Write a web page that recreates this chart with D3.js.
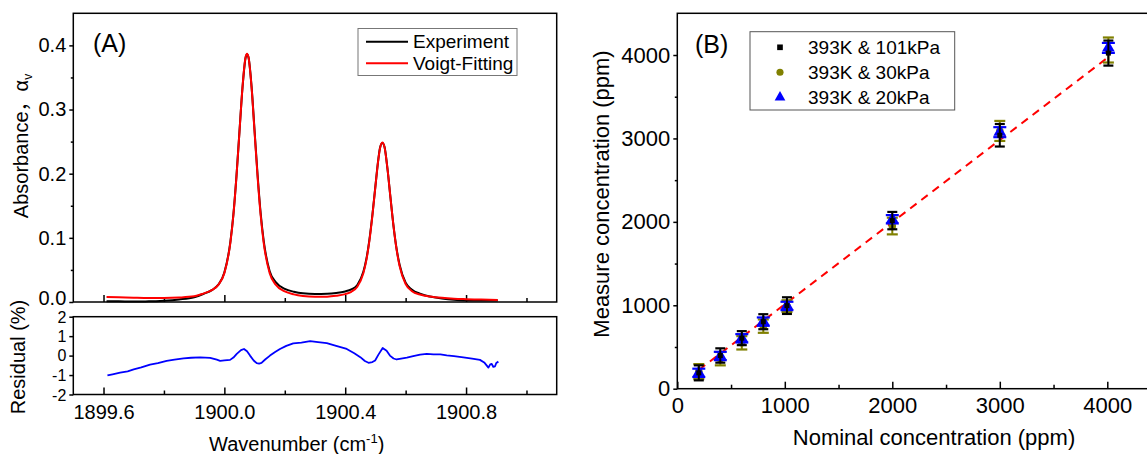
<!DOCTYPE html>
<html>
<head>
<meta charset="utf-8">
<script src="https://cdn.jsdelivr.net/npm/d3@7"></script>
<style>
  html, body { margin: 0; padding: 0; background: #fff; }
  svg { display: block; }
</style>
</head>
<body>
<svg id="chart" width="1147" height="454"></svg>
<script>
// ---------- Panel A: absorbance spectrum ----------
const wavenumber = [1899.61, 1899.65, 1899.70, 1899.75, 1899.80, 1899.85, 1899.90, 1899.93, 1899.96, 1899.98,
  1900.00, 1900.02, 1900.03, 1900.04, 1900.05, 1900.06, 1900.07, 1900.075, 1900.08, 1900.09,
  1900.10, 1900.11, 1900.12, 1900.13, 1900.15, 1900.17, 1900.20, 1900.23, 1900.26, 1900.30,
  1900.34, 1900.37, 1900.40, 1900.42, 1900.44, 1900.46, 1900.47, 1900.48, 1900.49, 1900.50,
  1900.51, 1900.515, 1900.523, 1900.53, 1900.54, 1900.55, 1900.56, 1900.57, 1900.58, 1900.60,
  1900.62, 1900.65, 1900.68, 1900.72, 1900.76, 1900.80, 1900.85, 1900.905];

const absExperiment = [0.0012, 0.0010, 0.0008, 0.0010, 0.0020, 0.0040, 0.0075, 0.0125, 0.0190, 0.0270,
  0.0460, 0.0940, 0.1370, 0.1960, 0.2660, 0.3340, 0.3800, 0.3860, 0.3810, 0.3360,
  0.2670, 0.1980, 0.1390, 0.0960, 0.0480, 0.0310, 0.0205, 0.0160, 0.0135, 0.0125,
  0.0128, 0.0140, 0.0165, 0.0195, 0.0265, 0.0470, 0.0670, 0.0970, 0.1360, 0.1810,
  0.2240, 0.2400, 0.2480, 0.2420, 0.2070, 0.1620, 0.1180, 0.0830, 0.0580, 0.0300,
  0.0195, 0.0125, 0.0085, 0.0055, 0.0035, 0.0025, 0.0022, 0.0025];

const absVoigtFit = [0.0078, 0.0074, 0.0068, 0.0064, 0.0064, 0.0070, 0.0088, 0.0131, 0.0190, 0.0267,
  0.0450, 0.0930, 0.1360, 0.1950, 0.2650, 0.3346, 0.3810, 0.3870, 0.3810, 0.3350,
  0.2650, 0.1950, 0.1360, 0.0930, 0.0450, 0.0270, 0.0164, 0.0119, 0.0094, 0.0082,
  0.0083, 0.0096, 0.0123, 0.0159, 0.0238, 0.0447, 0.0652, 0.0951, 0.1346, 0.1803,
  0.2233, 0.2390, 0.2485, 0.2414, 0.2073, 0.1617, 0.1177, 0.0819, 0.0560, 0.0280,
  0.0173, 0.0114, 0.0087, 0.0065, 0.0051, 0.0044, 0.0038, 0.0033];

const residualWavenumber = [1899.613, 1899.63, 1899.655, 1899.68, 1899.70, 1899.725, 1899.754, 1899.78, 1899.809, 1899.835,
  1899.865, 1899.89, 1899.92, 1899.953, 1899.975, 1899.986, 1900.00, 1900.019, 1900.03, 1900.041,
  1900.055, 1900.065, 1900.075, 1900.085, 1900.097, 1900.107, 1900.115, 1900.123, 1900.135, 1900.151,
  1900.168, 1900.184, 1900.205, 1900.228, 1900.255, 1900.284, 1900.31, 1900.339, 1900.37, 1900.405,
  1900.43, 1900.45, 1900.465, 1900.477, 1900.49, 1900.499, 1900.51, 1900.524, 1900.537, 1900.548,
  1900.56, 1900.57, 1900.585, 1900.604, 1900.625, 1900.648, 1900.67, 1900.692, 1900.715, 1900.736,
  1900.76, 1900.791, 1900.82, 1900.846, 1900.86, 1900.868, 1900.874, 1900.88, 1900.885, 1900.89,
  1900.896, 1900.90, 1900.907];

const residualPercent = [-1.02, -0.96, -0.88, -0.81, -0.71, -0.61, -0.46, -0.39, -0.27, -0.21,
  -0.14, -0.11, -0.09, -0.12, -0.21, -0.27, -0.25, -0.22, -0.10, 0.09,
  0.28, 0.34, 0.22, 0.00, -0.25, -0.39, -0.41, -0.37, -0.20, 0.00,
  0.18, 0.34, 0.50, 0.63, 0.67, 0.74, 0.69, 0.64, 0.50, 0.34,
  0.12, -0.08, -0.28, -0.37, -0.33, -0.25, 0.05, 0.39, 0.25, 0.00,
  -0.15, -0.20, -0.15, -0.10, -0.03, 0.05, 0.09, 0.06, 0.06, 0.01,
  -0.03, -0.09, -0.15, -0.22, -0.35, -0.50, -0.62, -0.45, -0.43, -0.58,
  -0.55, -0.38, -0.31];

const wavenumberMajorTicks = [1899.6, 1900.0, 1900.4, 1900.8];
const wavenumberMinorTicks = [1899.8, 1900.2, 1900.6, 1901.0];
const absorbanceTicks = [0.0, 0.1, 0.2, 0.3, 0.4];
const absorbanceMinorTicks = [0.05, 0.15, 0.25, 0.35];
const residualTicks = [-2, -1, 0, 1, 2];
const legendA = ["Experiment", "Voigt-Fitting"];

// ---------- Panel B: concentration calibration ----------
const nominalPpm = [200, 400, 600, 800, 1020, 2000, 3000, 4010];
const meas101kPa = [190, 398, 606, 803, 996, 2015, 3038, 4023];
const err101kPa = [90, 86, 84, 90, 100, 104, 135, 150];
const meas30kPa = [205, 360, 550, 750, 990, 1950, 3090, 4060];
const err30kPa = [90, 80, 80, 80, 70, 100, 120, 150];
const meas20kPa = [190, 392, 604, 804, 992, 2031, 3075, 4085];
const err20kPa = [50, 50, 50, 50, 50, 50, 60, 60];
const fitLineNominal = [200, 4010];
const fitLineMeasured = [225, 3975];
const ppmMajorTicks = [0, 1000, 2000, 3000, 4000];
const ppmMinorTicks = [500, 1500, 2500, 3500];
const legendB = ["393K & 101kPa", "393K & 30kPa", "393K & 20kPa"];

const FONT = '"Liberation Sans", Arial, Helvetica, sans-serif';
const svg = d3.select("#chart");

function styleAxis(g, fontSize) {
  g.select(".domain").remove();
  g.selectAll(".tick line").attr("stroke", "#000").attr("stroke-width", 1.5);
  g.selectAll(".tick text").attr("font-size", fontSize).attr("font-family", FONT).attr("fill", "#000");
  return g;
}

// ---------- Panel A scales ----------
const xA = d3.scaleLinear().domain([1899.5, 1901.1]).range([73.3, 556.7]);
const yAbs = d3.scaleLinear().domain([0, 0.45]).range([302, 13.3]);
const yRes = d3.scaleLinear().domain([-2, 2]).range([394.5, 316.7]);

// spectrum axes
svg.append("g").attr("transform", `translate(0,${yAbs(0)})`)
  .call(d3.axisBottom(xA).tickValues(wavenumberMajorTicks).tickSize(-7).tickFormat(""))
  .call(styleAxis, 20);
svg.append("g").attr("transform", `translate(0,${yAbs(0)})`)
  .call(d3.axisBottom(xA).tickValues(wavenumberMinorTicks).tickSize(-4).tickFormat(""))
  .call(styleAxis, 20);
const absAxis = svg.append("g").attr("transform", `translate(${xA.range()[0]},0)`)
  .call(d3.axisLeft(yAbs).tickValues(absorbanceTicks).tickSize(4).tickPadding(3).tickFormat(d3.format(".1f")))
  .call(styleAxis, 20);
// lift the lowest label slightly so it clears the residual panel's labels
absAxis.selectAll(".tick text").attr("dy", d => d === 0 ? "0.1em" : "0.32em");
svg.append("g").attr("transform", `translate(${xA.range()[0]},0)`)
  .call(d3.axisLeft(yAbs).tickValues(absorbanceMinorTicks).tickSize(2.5).tickFormat(""))
  .call(styleAxis, 20);

// residual axes
svg.append("g").attr("transform", `translate(0,${yRes(-2)})`)
  .call(d3.axisBottom(xA).tickValues(wavenumberMajorTicks).tickSize(-7).tickPadding(10).tickFormat(d3.format(".1f")))
  .call(styleAxis, 20);
svg.append("g").attr("transform", `translate(0,${yRes(-2)})`)
  .call(d3.axisBottom(xA).tickValues(wavenumberMinorTicks).tickSize(-4).tickFormat(""))
  .call(styleAxis, 20);
const resAxis = svg.append("g").attr("transform", `translate(${xA.range()[0]},0)`)
  .call(d3.axisLeft(yRes).tickValues(residualTicks).tickSize(4).tickPadding(3).tickFormat(d => String(d)))
  .call(styleAxis, 16);
resAxis.selectAll(".tick text")
  .attr("dy", d => d === 2 ? "0.38em" : (d === -2 ? "0.4em" : "0.32em"));

// frames
svg.append("rect")
  .attr("x", xA.range()[0]).attr("y", yAbs.range()[1])
  .attr("width", xA.range()[1] - xA.range()[0]).attr("height", yAbs.range()[0] - yAbs.range()[1])
  .attr("fill", "none").attr("stroke", "#000").attr("stroke-width", 1.5);
svg.append("rect")
  .attr("x", xA.range()[0]).attr("y", yRes.range()[1])
  .attr("width", xA.range()[1] - xA.range()[0]).attr("height", yRes.range()[0] - yRes.range()[1])
  .attr("fill", "none").attr("stroke", "#000").attr("stroke-width", 1.5);

// spectrum curves
const specLine = d3.line().x(d => xA(d[0])).y(d => yAbs(d[1])).curve(d3.curveMonotoneX);
svg.append("path")
  .attr("d", specLine(d3.zip(wavenumber, absExperiment)))
  .attr("fill", "none").attr("stroke", "#000").attr("stroke-width", 2);
svg.append("path")
  .attr("d", specLine(d3.zip(wavenumber, absVoigtFit)))
  .attr("fill", "none").attr("stroke", "#ff0000").attr("stroke-width", 2);

// residual curve
const resLine = d3.line().x(d => xA(d[0])).y(d => yRes(d[1]));
svg.append("path")
  .attr("d", resLine(d3.zip(residualWavenumber, residualPercent)))
  .attr("fill", "none").attr("stroke", "#0000ff").attr("stroke-width", 1.8)
  .attr("stroke-linejoin", "round");

// panel A labels
svg.append("text").attr("x", 93).attr("y", 52)
  .attr("font-family", FONT).attr("font-size", 25).text("(A)");

const absTitle = svg.append("text")
  .attr("transform", "translate(28,146) rotate(-90)")
  .attr("text-anchor", "middle")
  .attr("font-family", FONT).attr("font-size", 20);
absTitle.append("tspan").text("Absorbance");
absTitle.append("tspan").attr("font-family", '"Noto Sans CJK SC", sans-serif').text("，");
absTitle.append("tspan").text("α");
absTitle.append("tspan").attr("dy", 4).attr("font-size", 12).text("v");

svg.append("text")
  .attr("transform", "translate(25,357) rotate(-90)")
  .attr("text-anchor", "middle")
  .attr("font-family", FONT).attr("font-size", 20)
  .text("Residual (%)");

const waveTitle = svg.append("text")
  .attr("x", 209).attr("y", 451)
  .attr("font-family", FONT).attr("font-size", 20);
waveTitle.append("tspan").text("Wavenumber (cm");
waveTitle.append("tspan").attr("dy", -8).attr("font-size", 13).text("-1");
waveTitle.append("tspan").attr("dy", 8).text(")");

// legend A
const legA = svg.append("g");
legA.append("rect").attr("x", 358).attr("y", 28.5).attr("width", 159).attr("height", 47)
  .attr("fill", "#fff").attr("stroke", "#777").attr("stroke-width", 1);
const legAColors = ["#000", "#ff0000"];
legendA.forEach((name, i) => {
  const y = 41.7 + i * 21.6;
  legA.append("line").attr("x1", 366).attr("x2", 408).attr("y1", y).attr("y2", y)
    .attr("stroke", legAColors[i]).attr("stroke-width", 2);
  legA.append("text").attr("x", 413).attr("y", y).attr("dy", "0.35em")
    .attr("font-family", FONT).attr("font-size", 19).text(name);
});

// ---------- Panel B ----------
const xB = d3.scaleLinear().domain([0, 4400]).range([677.3, 1150.3]);
const yB = d3.scaleLinear().domain([0, 4500]).range([388.7, 13.3]);

svg.append("g").attr("transform", `translate(0,${yB(0)})`)
  .call(d3.axisBottom(xB).tickValues(ppmMajorTicks).tickSize(-7).tickPadding(9).tickFormat(d3.format("d")))
  .call(styleAxis, 22);
svg.append("g").attr("transform", `translate(0,${yB(0)})`)
  .call(d3.axisBottom(xB).tickValues(ppmMinorTicks).tickSize(-4).tickFormat(""))
  .call(styleAxis, 22);
svg.append("g").attr("transform", `translate(${xB(0)},0)`)
  .call(d3.axisLeft(yB).tickValues(ppmMajorTicks).tickSize(4).tickPadding(3).tickFormat(d3.format("d")))
  .call(styleAxis, 22);
svg.append("g").attr("transform", `translate(${xB(0)},0)`)
  .call(d3.axisLeft(yB).tickValues(ppmMinorTicks).tickSize(2.5).tickFormat(""))
  .call(styleAxis, 22);

svg.append("rect")
  .attr("x", xB.range()[0]).attr("y", yB.range()[1])
  .attr("width", xB.range()[1] - xB.range()[0]).attr("height", yB.range()[0] - yB.range()[1])
  .attr("fill", "none").attr("stroke", "#000").attr("stroke-width", 1.5);

// linear fit
svg.append("path")
  .attr("d", d3.line().x(d => xB(d[0])).y(d => yB(d[1]))(d3.zip(fitLineNominal, fitLineMeasured)))
  .attr("fill", "none").attr("stroke", "#ff0000").attr("stroke-width", 2)
  .attr("stroke-dasharray", "8,6");

function drawSeries(values, errors, color, symbolType, symbolSize, capHalf) {
  const g = svg.append("g");
  const pts = d3.zip(nominalPpm, values, errors);
  pts.forEach(([x, v, e]) => {
    const cx = xB(x);
    g.append("line").attr("x1", cx).attr("x2", cx).attr("y1", yB(v - e)).attr("y2", yB(v + e))
      .attr("stroke", color).attr("stroke-width", 2);
    [v - e, v + e].forEach(c => {
      g.append("line").attr("x1", cx - capHalf).attr("x2", cx + capHalf).attr("y1", yB(c)).attr("y2", yB(c))
        .attr("stroke", color).attr("stroke-width", 2.2);
    });
  });
  g.selectAll("path.mark").data(pts).join("path").attr("class", "mark")
    .attr("transform", d => `translate(${xB(d[0])},${yB(d[1])})`)
    .attr("d", d3.symbol(symbolType, symbolSize)())
    .attr("fill", color);
}

drawSeries(meas30kPa, err30kPa, "#808000", d3.symbolCircle, 45, 5.5);
drawSeries(meas20kPa, err20kPa, "#0000ff", d3.symbolTriangle, 70, 6.5);
drawSeries(meas101kPa, err101kPa, "#000000", d3.symbolSquare, 25, 5);

// panel B labels
svg.append("text").attr("x", 695).attr("y", 53)
  .attr("font-family", FONT).attr("font-size", 25).text("(B)");

svg.append("text")
  .attr("transform", "translate(609,194) rotate(-90)")
  .attr("text-anchor", "middle")
  .attr("font-family", FONT).attr("font-size", 22)
  .text("Measure concentration (ppm)");

svg.append("text")
  .attr("x", 934).attr("y", 445)
  .attr("text-anchor", "middle")
  .attr("font-family", FONT).attr("font-size", 22)
  .text("Nominal concentration (ppm)");

// legend B
const legB = svg.append("g");
legB.append("rect").attr("x", 750).attr("y", 31.7).attr("width", 204.7).attr("height", 78.3)
  .attr("fill", "#fff").attr("stroke", "#555").attr("stroke-width", 1);
const legBColors = ["#000000", "#808000", "#0000ff"];
const legBSymbols = [d3.symbolSquare, d3.symbolCircle, d3.symbolTriangle];
const legBSizes = [32, 40, 50];
legendB.forEach((name, i) => {
  const y = 47.3 + i * 25;
  legB.append("path").attr("transform", `translate(780,${y})`)
    .attr("d", d3.symbol(legBSymbols[i], legBSizes[i])()).attr("fill", legBColors[i]);
  legB.append("text").attr("x", 808).attr("y", y).attr("dy", "0.35em")
    .attr("font-family", FONT).attr("font-size", 19).text(name);
});
</script>
</body>
</html>
